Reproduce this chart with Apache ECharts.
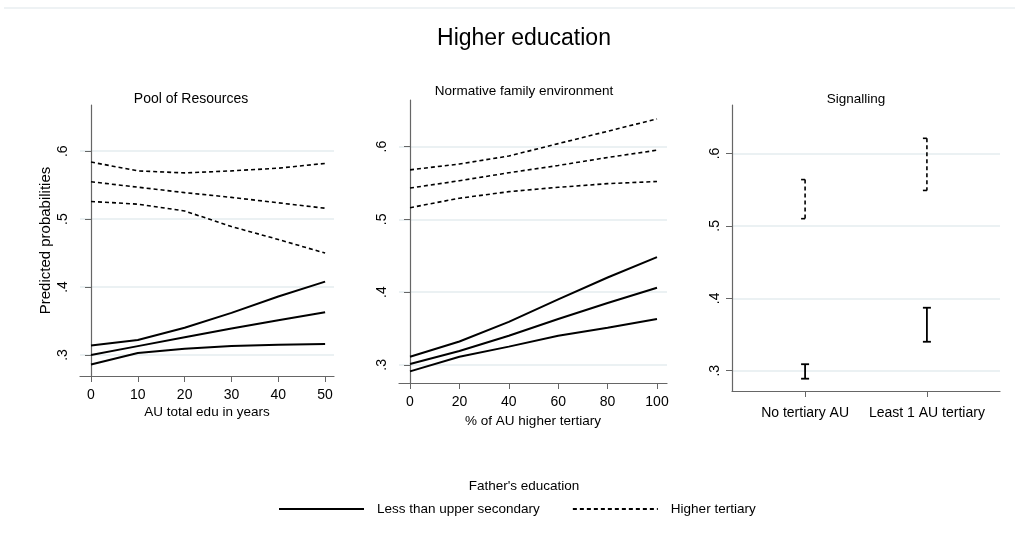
<!DOCTYPE html>
<html>
<head>
    <meta charset="utf-8">
    <title>Higher education</title>
    <script src="https://cdn.jsdelivr.net/npm/echarts@6/dist/echarts.min.js"></script>
</head>
<body style="margin:0;background:#fff;">
<div id="main" style="width:1015px;height:546px;"></div>
<script type="text/javascript">
    // panel 1: Pool of Resources
    var p1X = [0, 10, 20, 30, 40, 50];
    var p1SolidHi  = [0.314, 0.322, 0.340, 0.362, 0.386, 0.408];
    var p1SolidMid = [0.300, 0.313, 0.326, 0.339, 0.351, 0.363];
    var p1SolidLo  = [0.286, 0.303, 0.309, 0.313, 0.315, 0.316];
    var p1DashHi   = [0.584, 0.571, 0.568, 0.571, 0.575, 0.582];
    var p1DashMid  = [0.555, 0.547, 0.539, 0.532, 0.524, 0.516];
    var p1DashLo   = [0.526, 0.522, 0.512, 0.489, 0.470, 0.450];

    // panel 2: Normative family environment
    var p2X = [0, 20, 40, 60, 80, 100];
    var p2SolidHi  = [0.311, 0.332, 0.359, 0.390, 0.420, 0.448];
    var p2SolidMid = [0.301, 0.319, 0.340, 0.363, 0.385, 0.406];
    var p2SolidLo  = [0.291, 0.311, 0.325, 0.340, 0.351, 0.363];
    var p2DashHi   = [0.568, 0.576, 0.587, 0.604, 0.621, 0.638];
    var p2DashMid  = [0.543, 0.553, 0.564, 0.574, 0.585, 0.595];
    var p2DashLo   = [0.516, 0.529, 0.538, 0.544, 0.549, 0.552];

    // panel 3: Signalling (confidence intervals)
    var p3Cats = ['No tertiary AU', 'Least 1 AU tertiary'];
    var p3SolidLow  = [0.289, 0.340];
    var p3SolidHigh = [0.309, 0.387];
    var p3DashLow   = [0.510, 0.549];
    var p3DashHigh  = [0.564, 0.621];

    var yTicks = [0.3, 0.4, 0.5, 0.6];
    var legendNames = ['Less than upper secondary', 'Higher tertiary'];

    var myChart = echarts.init(document.getElementById('main'));

    function zip(xs, ys) {
        return xs.map(function (x, i) { return [x, ys[i]]; });
    }

    var axisGray = '#666';
    var gridColor = '#e4edef';
    var font = 'Liberation Sans, Arial, sans-serif';

    function yAxisOpt(idx, min, max, name) {
        return {
            type: 'value', gridIndex: idx, min: min, max: max,
            name: name || '', nameLocation: 'middle', nameGap: 27,
            nameTextStyle: { color: '#000', fontSize: 15, fontFamily: font },
            axisLine: { show: true, lineStyle: { color: axisGray, width: 1.2 } },
            axisTick: { show: true, length: 6, customValues: yTicks, lineStyle: { color: axisGray } },
            axisLabel: {
                customValues: yTicks, rotate: 90, margin: 10, color: '#000',
                fontSize: 14, fontFamily: font,
                formatter: function (v) { return String(Math.round(v * 10) / 10).replace('0.', '.'); }
            },
            splitLine: { show: true, lineStyle: { color: gridColor, width: 1.5 } }
        };
    }

    function xAxisOpt(idx, min, max, ticks, name, margin, fmt) {
        return {
            type: 'value', gridIndex: idx, min: min, max: max,
            name: name, nameLocation: 'middle', nameGap: 29,
            nameTextStyle: { color: '#000', fontSize: 13.5, fontFamily: font },
            axisLine: { show: true, onZero: false, lineStyle: { color: axisGray, width: 1.2 } },
            axisTick: { show: true, length: 6, customValues: ticks, lineStyle: { color: axisGray } },
            axisLabel: { customValues: ticks, margin: margin, color: '#000', fontSize: 14, fontFamily: font, formatter: fmt },
            splitLine: { show: false }
        };
    }

    function lineSeries(idx, xs, ys, dashed) {
        return {
            name: dashed ? legendNames[1] : legendNames[0],
            type: 'line', xAxisIndex: idx, yAxisIndex: idx,
            data: zip(xs, ys), symbol: 'none', silent: true,
            lineStyle: dashed ? { color: '#000', width: 1.6, type: [4, 3] } : { color: '#000', width: 2 },
            itemStyle: { color: '#000' }
        };
    }

    function capSeries(lows, highs, dashed) {
        var d = lows.map(function (lo, i) { return [i + 1, lo, highs[i]]; });
        return {
            type: 'custom', xAxisIndex: 2, yAxisIndex: 2, silent: true,
            name: dashed ? legendNames[1] : legendNames[0],
            data: d,
            renderItem: function (params, api) {
                var top = api.coord([api.value(0), api.value(2)]);
                var bot = api.coord([api.value(0), api.value(1)]);
                var lineSt = { stroke: '#000', lineWidth: dashed ? 1.6 : 1.8, lineDash: dashed ? [4, 3] : null };
                var capSt = { stroke: '#000', lineWidth: dashed ? 1.6 : 1.8 };
                // dashed caps only show their left half, like the original
                var wl = 4, wr = dashed ? 0 : 4;
                return {
                    type: 'group',
                    children: [
                        { type: 'line', shape: { x1: top[0], y1: top[1], x2: bot[0], y2: bot[1] }, style: lineSt },
                        { type: 'line', shape: { x1: top[0] - wl, y1: top[1], x2: top[0] + wr, y2: top[1] }, style: capSt },
                        { type: 'line', shape: { x1: bot[0] - wl, y1: bot[1], x2: bot[0] + wr, y2: bot[1] }, style: capSt }
                    ]
                };
            }
        };
    }

    var option = {
        animation: false,
        backgroundColor: '#fff',
        title: [
            { text: 'Higher education', left: 519, textAlign: 'center', top: 22,
              textStyle: { fontSize: 23, fontWeight: 'normal', color: '#000', fontFamily: font } },
            { text: 'Pool of Resources', left: 186, textAlign: 'center', top: 87,
              textStyle: { fontSize: 14, fontWeight: 'normal', color: '#000', fontFamily: font } },
            { text: 'Normative family environment', left: 519, textAlign: 'center', top: 79,
              textStyle: { fontSize: 13.5, fontWeight: 'normal', color: '#000', fontFamily: font } },
            { text: 'Signalling', left: 851, textAlign: 'center', top: 87,
              textStyle: { fontSize: 13.5, fontWeight: 'normal', color: '#000', fontFamily: font } },
            { text: "Father's education", left: 519, textAlign: 'center', top: 474,
              textStyle: { fontSize: 13.5, fontWeight: 'normal', color: '#000', fontFamily: font } }
        ],
        legend: {
            data: legendNames,
            left: 278, top: 502, padding: 0,
            itemWidth: 85, itemHeight: 14, itemGap: 32,
            selectedMode: false,
            itemStyle: { opacity: 0 },
            textStyle: { fontSize: 13.5, color: '#000', fontFamily: font, padding: [0, 0, 0, 8] }
        },
        graphic: [
            { type: 'line', shape: { x1: 4, y1: 8, x2: 1015, y2: 8 }, style: { stroke: '#e8eef0', lineWidth: 1.5 } }
        ],
        grid: [
            { left: 80, top: 105, width: 254, height: 271 },
            { left: 399, top: 100, width: 268, height: 283 },
            { left: 732, top: 105, width: 268, height: 286 }
        ],
        xAxis: [
            xAxisOpt(0, -2.35, 51.9, p1X, 'AU total edu in years', 12),
            xAxisOpt(1, -4.46, 104.05, p2X, '% of AU higher tertiary', 12),
            xAxisOpt(2, 0.4, 2.6, [1, 2], '', 15, function (v) { return p3Cats[Math.round(v) - 1] || ''; })
        ],
        yAxis: [
            yAxisOpt(0, 0.269, 0.668, 'Predicted probabilities'),
            yAxisOpt(1, 0.275, 0.664),
            yAxisOpt(2, 0.272, 0.667)
        ],
        series: [
            lineSeries(0, p1X, p1SolidHi, false),
            lineSeries(0, p1X, p1SolidMid, false),
            lineSeries(0, p1X, p1SolidLo, false),
            lineSeries(0, p1X, p1DashHi, true),
            lineSeries(0, p1X, p1DashMid, true),
            lineSeries(0, p1X, p1DashLo, true),
            lineSeries(1, p2X, p2SolidHi, false),
            lineSeries(1, p2X, p2SolidMid, false),
            lineSeries(1, p2X, p2SolidLo, false),
            lineSeries(1, p2X, p2DashHi, true),
            lineSeries(1, p2X, p2DashMid, true),
            lineSeries(1, p2X, p2DashLo, true),
            capSeries(p3SolidLow, p3SolidHigh, false),
            capSeries(p3DashLow, p3DashHigh, true)
        ]
    };

    myChart.setOption(option);
</script>
</body>
</html>
